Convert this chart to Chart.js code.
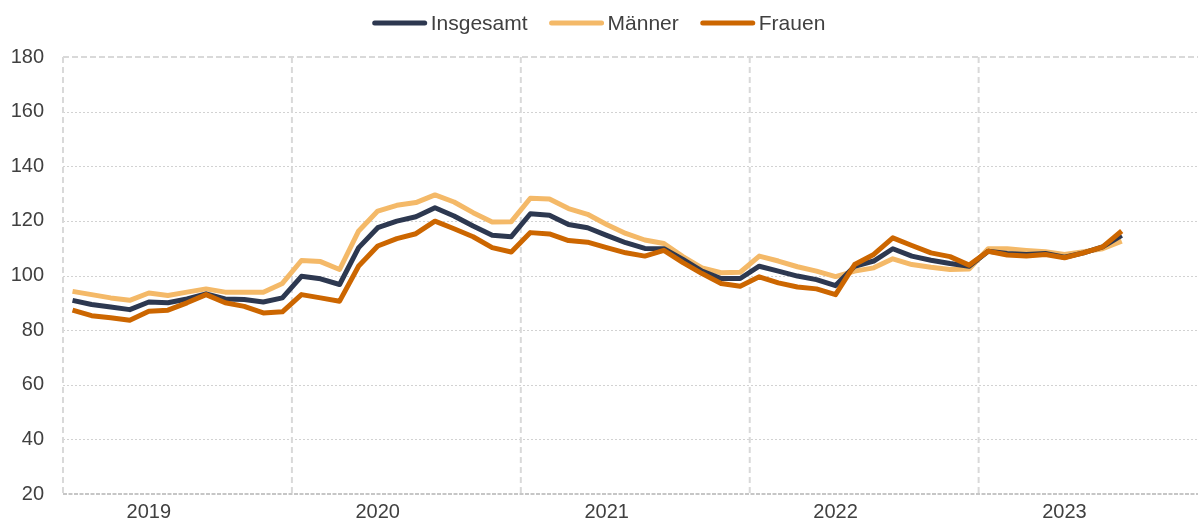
<!DOCTYPE html>
<html>
<head>
<meta charset="utf-8">
<script src="https://cdn.jsdelivr.net/npm/chart.js@4/dist/chart.umd.min.js"></script>
<style>
  html, body { margin: 0; padding: 0; background: #fff; }
  #wrap { width: 1198px; height: 519px; }
</style>
</head>
<body>
<div id="wrap"><canvas id="chart" width="1198" height="519"></canvas></div>
<script>
// Monthly values, Jan 2019 .. Aug 2023
const YEARS = ["2019", "2020", "2021", "2022", "2023"];
const Y_TICKS = [20, 40, 60, 80, 100, 120, 140, 160, 180];

const insgesamt = [
  90.9, 89.4, 88.5, 87.5, 90.3, 90.0, 91.4, 93.3, 91.4, 91.2, 90.3, 91.8,
  99.7, 98.8, 96.7, 110.2, 117.5, 119.9, 121.5, 124.8, 121.8, 118.1, 114.7, 114.2,
  122.6, 122.1, 118.7, 117.5, 114.7, 112.0, 109.9, 109.8, 105.9, 101.6, 98.9, 98.9,
  103.4, 101.6, 99.8, 98.5, 96.3, 103.4, 105.3, 109.8, 107.1, 105.6, 104.4, 103.4,
  108.9, 108.1, 107.7, 108.1, 106.7, 108.3, 110.5, 114.7
];
const maenner = [
  94.2, 93.0, 91.8, 90.9, 93.6, 92.7, 93.9, 95.1, 93.9, 93.9, 93.9, 97.1,
  105.5, 105.1, 102.2, 116.3, 123.6, 125.7, 126.7, 129.5, 126.9, 123.0, 119.6, 119.7,
  128.3, 128.0, 124.5, 122.4, 118.7, 115.4, 113.0, 111.7, 106.9, 102.8, 101.0, 101.2,
  107.1, 105.3, 103.2, 101.6, 99.6, 101.6, 102.8, 106.1, 104.0, 103.0, 102.2, 102.4,
  109.8, 109.8, 109.2, 108.7, 107.7, 108.7, 109.8, 112.6
];
const frauen = [
  87.3, 85.3, 84.5, 83.6, 86.9, 87.3, 90.0, 93.0, 90.0, 88.7, 86.3, 86.7,
  93.0, 91.8, 90.6, 103.5, 110.8, 113.5, 115.3, 119.9, 117.1, 114.2, 110.2, 108.6,
  115.7, 115.2, 112.8, 112.2, 110.2, 108.3, 107.1, 109.2, 104.7, 100.7, 97.1, 96.1,
  99.5, 97.3, 95.8, 95.1, 93.0, 104.0, 107.7, 113.8, 111.0, 108.3, 106.9, 103.8,
  108.9, 107.5, 107.1, 107.7, 106.5, 108.3, 110.5, 116.3
];

const COLORS = {
  insgesamt: "#2d3850",
  maenner: "#f4b968",
  frauen: "#cc6600",
};
const TEXT = "#404040";
const FONT = "'Liberation Sans', Arial, sans-serif";

const toPoints = (arr) => arr.map((v, i) => ({ x: i, y: v }));

// grid lines drawn by hand so each kind gets its own dash
const framePlugin = {
  id: "frame",
  beforeDatasetsDraw(chart) {
    const { ctx, chartArea: a, scales: { x, y } } = chart;
    ctx.save();
    // light dotted horizontals
    ctx.strokeStyle = "#d2d2d2";
    ctx.lineWidth = 1;
    ctx.setLineDash([2, 2]);
    Y_TICKS.slice(1, -1).forEach((v) => {
      const py = Math.round(y.getPixelForValue(v)) + 0.5;
      ctx.beginPath(); ctx.moveTo(a.left, py); ctx.lineTo(a.right, py); ctx.stroke();
    });
    // top line
    ctx.strokeStyle = "#d9d9d9";
    ctx.lineWidth = 2;
    ctx.setLineDash([6, 3]);
    const top = y.getPixelForValue(180);
    ctx.beginPath(); ctx.moveTo(a.left, top); ctx.lineTo(a.right, top); ctx.stroke();
    // left edge + year separators
    const bottom = y.getPixelForValue(20);
    ctx.setLineDash([6, 4]);
    [-0.5, 11.5, 23.5, 35.5, 47.5].forEach((v) => {
      const px = x.getPixelForValue(v);
      ctx.beginPath(); ctx.moveTo(px, top); ctx.lineTo(px, bottom); ctx.stroke();
    });
    // base line
    ctx.strokeStyle = "#b4b4b4";
    ctx.lineWidth = 1.5;
    ctx.setLineDash([4, 1.5]);
    ctx.beginPath(); ctx.moveTo(a.left, bottom); ctx.lineTo(a.right, bottom); ctx.stroke();
    ctx.restore();
  },
  afterDraw(chart) {
    // legend on top, centred
    const { ctx, width } = chart;
    const items = chart.data.datasets;
    ctx.save();
    ctx.font = "21px " + FONT;
    const lineLen = 54, gap = 4, spacing = 22;
    const widths = items.map((d) => lineLen + gap + ctx.measureText(d.label).width);
    const total = widths.reduce((s, w) => s + w, 0) + spacing * (items.length - 1);
    let cx = (width - total) / 2;
    items.forEach((d, i) => {
      ctx.strokeStyle = d.borderColor;
      ctx.lineWidth = 5;
      ctx.lineCap = "round";
      ctx.setLineDash([]);
      ctx.beginPath(); ctx.moveTo(cx + 2, 23); ctx.lineTo(cx + lineLen - 2, 23); ctx.stroke();
      ctx.fillStyle = TEXT;
      ctx.textBaseline = "alphabetic";
      ctx.textAlign = "left";
      ctx.fillText(d.label, cx + lineLen + gap, 30);
      cx += widths[i] + spacing;
    });
    ctx.restore();
  },
};

const lineDs = (label, data, color, order) => ({
  label,
  data: toPoints(data),
  borderColor: color,
  backgroundColor: color,
  borderWidth: 5,
  borderJoinStyle: "round",
  pointRadius: 0,
  tension: 0,
  order,
});

// fixed axis sizes, no edge padding from labels
const fixSize = (w, h) => (scale) => {
  if (w) scale.width = w;
  if (h) scale.height = h;
  scale.paddingLeft = 0; scale.paddingRight = 0;
  scale.paddingTop = 0; scale.paddingBottom = 0;
};

new Chart(document.getElementById("chart"), {
  type: "line",
  data: {
    datasets: [
      lineDs("Insgesamt", insgesamt, COLORS.insgesamt, 1),
      lineDs("Männer", maenner, COLORS.maenner, 2),
      lineDs("Frauen", frauen, COLORS.frauen, 0),
    ],
  },
  options: {
    responsive: false,
    animation: false,
    devicePixelRatio: 1,
    layout: { padding: { top: 57, right: 0, left: 0, bottom: 0 } },
    plugins: {
      legend: { display: false },
      tooltip: { enabled: false },
    },
    scales: {
      x: {
        type: "linear",
        min: -0.5,
        max: 59,
        grid: { display: false, drawTicks: false },
        border: { display: false },
        afterBuildTicks: (scale) => {
          scale.ticks = YEARS.map((_, i) => ({ value: 4 + i * 12 }));
        },
        afterFit: fixSize(0, 25),
        ticks: {
          autoSkip: false,
          maxRotation: 0,
          padding: 6,
          color: TEXT,
          font: { family: FONT, size: 20 },
          callback: (v) => YEARS[Math.round((v - 4) / 12)] || "",
        },
      },
      y: {
        min: 20,
        max: 180,
        grid: { display: false, drawTicks: false },
        border: { display: false },
        afterFit: fixSize(63, 0),
        ticks: {
          stepSize: 20,
          padding: 19,
          color: TEXT,
          font: { family: FONT, size: 20 },
        },
      },
    },
  },
  plugins: [framePlugin],
});
</script>
</body>
</html>
